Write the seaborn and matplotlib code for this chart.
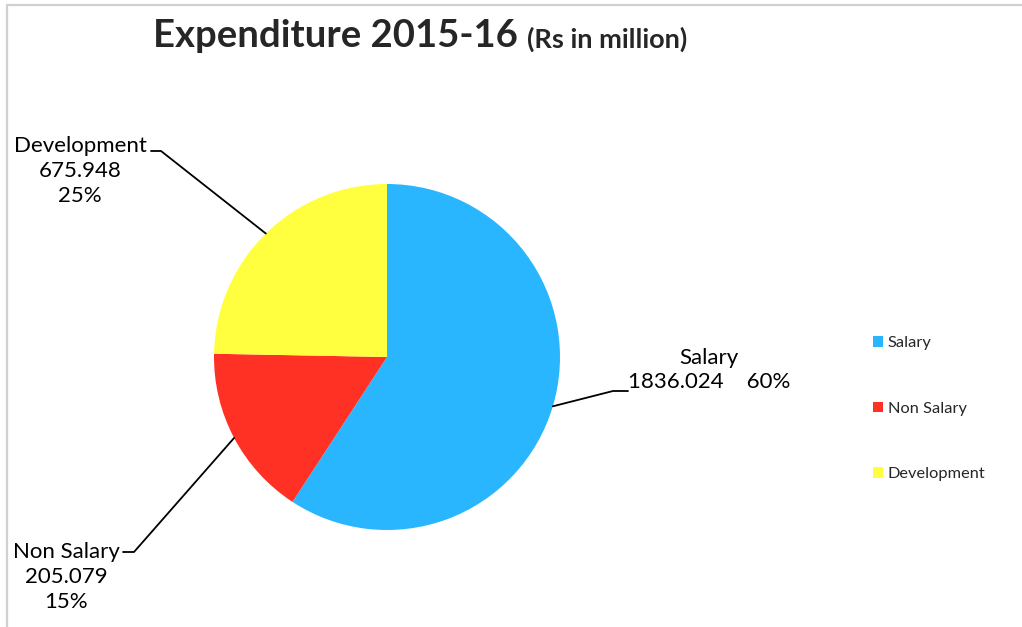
import matplotlib
matplotlib.use("Agg")
import matplotlib.pyplot as plt
from matplotlib.lines import Line2D
import numpy as np
import seaborn as sns

# ---- data ----
categories = ["Salary", "Non Salary", "Development"]
amounts = [1836.024, 205.079, 675.948]
shares = [60, 15, 25]                 # percentages as printed in the labels
slice_sizes = [59.2, 16.1, 24.7]      # slice sizes as drawn
colors = ["#29B6FF", "#FF3024", "#FFFF40"]
title_main = "Expenditure 2015-16"
title_sub = "(Rs in million)"

sns.set_theme(style="white")
plt.rcParams["font.family"] = ["Lato", "DejaVu Sans"]

W, H = 1022, 627
fig = plt.figure(figsize=(W / 100, H / 100), dpi=100)
fig.patch.set_facecolor("white")

# pie axes: centre (387,357) px, radius 173 px (image coords)
cx, cy, r = 387, 357, 173
ax = fig.add_axes([(cx - r) / W, (H - cy - r) / H, 2 * r / W, 2 * r / H])
wedges, _ = ax.pie(slice_sizes, colors=colors, startangle=90, counterclock=False,
                   radius=1.0, wedgeprops=dict(linewidth=0))
ax.set_xlim(-1, 1)
ax.set_ylim(-1, 1)
ax.set_aspect("equal")
ax.axis("off")

def img2fig(x, y):
    return x / W, (H - y) / H

# data labels
label_pos = {
    "Salary": dict(xy=(709, 370), elbow=(613, 391), end=(628, 391)),
    "Non Salary": dict(xy=(66, 577), elbow=(134, 552), end=(123, 552)),
    "Development": dict(xy=(80, 171), elbow=(161, 151), end=(151, 151)),
}
for w, cat, amt, sh in zip(wedges, categories, amounts, shares):
    mid = np.deg2rad((w.theta1 + w.theta2) / 2)
    edge = ax.transData.transform((np.cos(mid), np.sin(mid)))
    ex, ey = fig.transFigure.inverted().transform(edge)
    p = label_pos[cat]
    if cat == "Salary":
        txt = f"{cat}\n{amt:.3f}    {sh}%"
    else:
        txt = f"{cat}\n{amt:.3f}\n{sh}%"
    fx, fy = img2fig(*p["xy"])
    fig.text(fx, fy, txt, ha="center", va="center", fontsize=16,
             linespacing=1.3, color="#000000")
    bx, by = img2fig(*p["elbow"])
    tx, ty = img2fig(*p["end"])
    fig.add_artist(Line2D([ex, bx, tx], [ey, by, ty], transform=fig.transFigure,
                          color="black", linewidth=1.3))

# title
fig.text(153 / W, (H - 47) / H, title_main, fontsize=27.5, fontweight="bold",
         ha="left", va="baseline")
fig.text(527 / W, (H - 48) / H, title_sub, fontsize=19.5, fontweight="bold",
         ha="left", va="baseline")

# legend
handles = [plt.Rectangle((0, 0), 1, 1, facecolor=c, edgecolor="none") for c in colors]
fig.legend(handles, categories, loc="upper left",
           bbox_to_anchor=(865 / W, (H - 328) / H), frameon=False, fontsize=11.8,
           handlelength=0.6, handleheight=0.6, handletextpad=0.3,
           labelspacing=3.15, borderpad=0)

# chart-area frame (top and left edges visible)
fig.add_artist(Line2D([7 / W, 1.0], [(H - 5) / H, (H - 5) / H],
                      transform=fig.transFigure, color="#D0D0D0", linewidth=1.6))
fig.add_artist(Line2D([7 / W, 7 / W], [0, (H - 5) / H],
                      transform=fig.transFigure, color="#D0D0D0", linewidth=1.6))

fig.savefig("out.png", dpi=100, facecolor="white")
